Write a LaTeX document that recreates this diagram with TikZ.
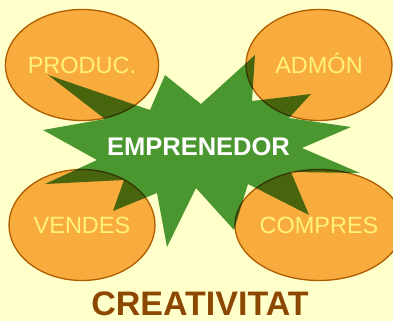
\documentclass[tikz,border=0pt]{standalone}
\usepackage{fontspec}
\setmainfont{Liberation Sans}
\usetikzlibrary{shapes.geometric}
\definecolor{paper}{RGB}{255,255,202}
\definecolor{orangefill}{RGB}{249,172,62}
\definecolor{orangeline}{RGB}{176,92,0}
\definecolor{areatext}{RGB}{255,242,122}
\definecolor{stargreen}{RGB}{74,150,60}
\definecolor{titlebrown}{RGB}{140,72,0}
\tikzset{
	area/.style  = {draw=orangeline, line width=1.3pt, fill=orangefill, ellipse,
		minimum width=146pt, minimum height=111pt, inner sep=0pt,
		text height=17pt, text depth=0pt,
		text=areatext, font=\fontsize{23.5}{24}\selectfont},
	core/.style  = {text=white, inner sep=0pt, anchor=base,
		font=\fontsize{25.5}{26}\selectfont\bfseries},
	title/.style = {text=titlebrown, inner sep=0pt, anchor=base,
		font=\fontsize{34}{35}\selectfont\bfseries}
}

\begin{document}
\begin{tikzpicture}[x=1pt, y=-1pt]
	
	\useasboundingbox[fill=paper] (0,0) rectangle (393,321);
	
	% les quatre arees
	\node[area] (prod) at (82,65)  {PRODUC.};
	\node[area] (admo) at (319,65) {ADMÓN};
	\node[area] (vend) at (82,225) {VENDES};
	\node[area] (comp) at (319,225) {COMPRES};
	
	% estrella
	\fill[stargreen, blend mode=multiply]
	(48,75) -- (150,110) -- (165,75) -- (201,104) -- (255,55) -- (252,101)
	-- (311,94) -- (289,118) -- (351,127) -- (302,148) -- (360,173) -- (291,172)
	-- (309,215) -- (248,184) -- (234,230) -- (196,188) -- (167,247) -- (157,193)
	-- (113,211) -- (124,180) -- (45,184) -- (97,160) -- (43,130) -- (105,119)
	-- cycle;
	
	\node[core] (empr) at (198.5,155) {EMPRENEDOR};
	\node[title] (crea) at (200,315.5) {CREATIVITAT};
	
\end{tikzpicture}
\end{document}
